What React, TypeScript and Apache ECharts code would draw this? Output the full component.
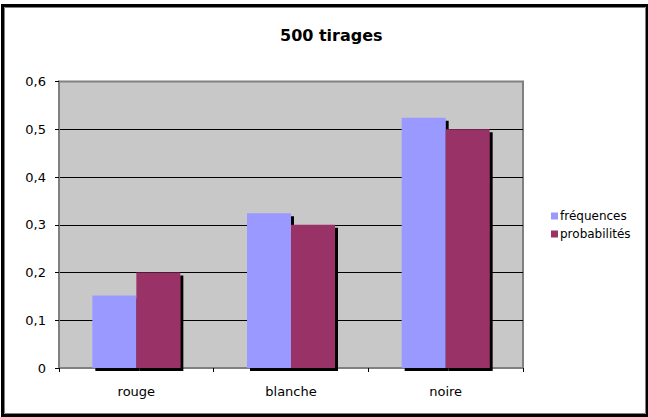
import React, { useEffect, useRef } from "react";
import * as echarts from "echarts";

const categories = ["rouge", "blanche", "noire"];
const frequences = [0.152, 0.324, 0.524];
const probabilites = [0.2, 0.3, 0.5];
const seriesNames = ["fréquences", "probabilités"];
const titleText = "500 tirages";

const FONT = "'DejaVu Sans', Verdana, sans-serif";

export default function App() {
  const ref = useRef<HTMLDivElement>(null);

  useEffect(() => {
    if (!ref.current) return;
    const chart = echarts.init(ref.current, null, { renderer: "svg" });
    const barStyle = (color: string) => ({
      color,
      shadowColor: "#000",
      shadowBlur: 0,
      shadowOffsetX: 3,
      shadowOffsetY: 3,
    });
    chart.setOption({
      animation: false,
      backgroundColor: "#fff",
      title: {
        text: titleText,
        left: 275,
        top: 22,
        textStyle: { fontFamily: FONT, fontSize: 16, fontWeight: "bold", color: "#000" },
      },
      legend: {
        orient: "vertical",
        left: 546,
        top: 205,
        itemWidth: 7,
        itemHeight: 7,
        itemGap: 6,
        icon: "rect",
        textStyle: { fontFamily: FONT, fontSize: 12, color: "#000", padding: [0, 0, 0, -3] },
        data: seriesNames,
      },
      grid: {
        left: 59,
        right: 125,
        top: 81.5,
        bottom: 49,
        show: true,
        backgroundColor: "#c8c8c8",
        borderColor: "#808080",
        borderWidth: 2,
      },
      xAxis: {
        type: "category",
        data: categories,
        axisLine: { show: true, lineStyle: { color: "#808080", width: 2 } },
        axisTick: { show: true, length: 4, lineStyle: { color: "#000" } },
        axisLabel: { margin: 17, fontFamily: FONT, fontSize: 13, color: "#000" },
      },
      yAxis: {
        type: "value",
        min: 0,
        max: 0.6,
        interval: 0.1,
        axisLine: { show: true, lineStyle: { color: "#808080", width: 2 } },
        axisTick: { show: true, length: 4, lineStyle: { color: "#000" } },
        axisLabel: {
          margin: 13,
          fontFamily: FONT,
          fontSize: 13,
          color: "#000",
          formatter: (v: number) => (v === 0 ? "0" : v.toFixed(1).replace(".", ",")),
        },
        splitLine: {
          show: true,
          lineStyle: {
            color: ["#808080", "#000", "#000", "#000", "#000", "#000", "#808080"],
            width: 1,
          },
        },
      },
      series: [
        {
          name: seriesNames[0],
          type: "bar",
          data: frequences,
          barWidth: 44,
          barGap: "0%",
          itemStyle: barStyle("#9999ff"),
        },
        {
          name: seriesNames[1],
          type: "bar",
          data: probabilites,
          barWidth: 44,
          barGap: "0%",
          itemStyle: barStyle("#993366"),
        },
      ],
      graphic: [
        {
          type: "rect",
          silent: true,
          z: 100,
          shape: { x: 2.5, y: 5.5, width: 645, height: 410 },
          style: { fill: "none", stroke: "#000", lineWidth: 3 },
        },
        {
          type: "rect",
          silent: true,
          z: 100,
          shape: { x: 4.5, y: 7.5, width: 641, height: 406 },
          style: { fill: "none", stroke: "#808080", lineWidth: 1 },
        },
      ],
    });
    return () => chart.dispose();
  }, []);

  return (
    <div
      ref={ref}
      style={{ position: "fixed", left: 0, top: 0, width: 648, height: 417 }}
    />
  );
}
